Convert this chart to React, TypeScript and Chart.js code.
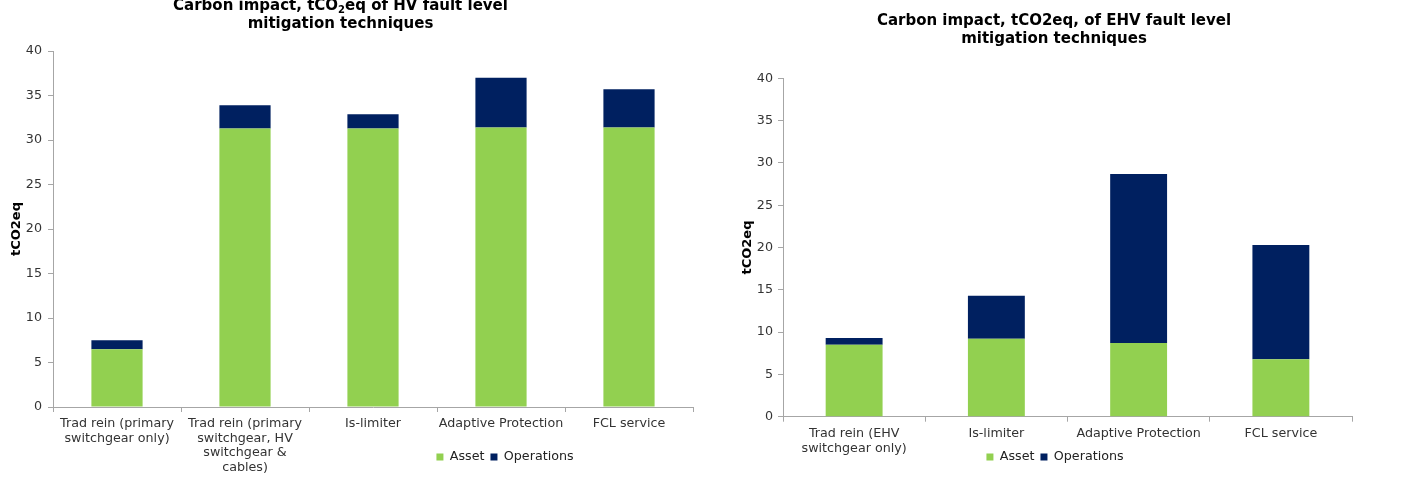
import React, { useEffect, useRef } from "react";
import { Chart, registerables } from "chart.js";

Chart.register(...registerables);

// ---------- data ----------
const seriesNames = ["Asset", "Operations"];

const hvCategories = [
  ["Trad rein (primary", "switchgear only)"],
  ["Trad rein (primary", "switchgear, HV", "switchgear &", "cables)"],
  ["Is-limiter"],
  ["Adaptive Protection"],
  ["FCL service"],
];
const hvAsset = [6.5, 31.3, 31.3, 31.4, 31.4];
const hvOperations = [1.0, 2.6, 1.6, 5.6, 4.3];

const ehvCategories = [
  ["Trad rein (EHV", "switchgear only)"],
  ["Is-limiter"],
  ["Adaptive Protection"],
  ["FCL service"],
];
const ehvAsset = [8.5, 9.2, 8.7, 6.8];
const ehvOperations = [0.8, 5.1, 20.0, 13.5];

const yMin = 0;
const yMax = 40;
const yStep = 5;
const yTitle = "tCO2eq";

const hvTitle = [
  [{ text: "Carbon impact, tCO" }, { text: "2", sub: true }, { text: "eq of HV fault level" }],
  [{ text: "mitigation techniques" }],
];
const ehvTitle = [
  [{ text: "Carbon impact, tCO2eq, of EHV fault level" }],
  [{ text: "mitigation techniques" }],
];

// ---------- styles ----------
const FAMILY = "'DejaVu Sans', Verdana, sans-serif";
const GREEN = "#92D050";
const NAVY = "#002060";
const AXIS = "#A6A6A6";
const TICK_COLOR = "#333333";
const TICK_SIZE = 12.7;
const LEGEND_PAD = 6;
const LEGEND_H = TICK_SIZE + LEGEND_PAD + 10;

const richTitle = {
  id: "richTitle",
  afterDraw(chart: any, _a: any, opts: any) {
    if (!opts || !opts.lines) return;
    const ctx = chart.ctx;
    ctx.save();
    ctx.fillStyle = opts.color || "#000";
    ctx.textBaseline = "alphabetic";
    ctx.textAlign = "left";
    opts.lines.forEach((segs: any[], i: number) => {
      const y = opts.baselines[i];
      const widths = segs.map((s) => {
        ctx.font = `bold ${s.sub ? opts.subSize : opts.size}px ${FAMILY}`;
        return ctx.measureText(s.text).width;
      });
      const total = widths.reduce((a: number, b: number) => a + b, 0);
      let x = opts.cx - total / 2;
      segs.forEach((s, j) => {
        ctx.font = `bold ${s.sub ? opts.subSize : opts.size}px ${FAMILY}`;
        ctx.fillText(s.text, x, y + (s.sub ? opts.subShift : 0));
        x += widths[j];
      });
    });
    ctx.restore();
  },
};

const legendPlacer = {
  id: "legendPlacer",
  afterLayout(chart: any, _a: any, opts: any) {
    const lg = chart.legend;
    if (!lg || opts == null || opts.cx == null) return;
    const w = lg.right - lg.left;
    lg.left = opts.cx - w / 2;
    lg.right = lg.left + w;
    const h = lg.bottom - lg.top;
    lg.top = opts.cy - (LEGEND_PAD + TICK_SIZE / 2);
    lg.bottom = lg.top + h;
  },
};

function makeConfig(p: {
  labels: string[][];
  asset: number[];
  ops: number[];
  yAxisWidth: number;
  yTitlePad: number;
  yTickPad: number;
  xAxisHeight: number;
  padTop: number;
  padRight: number;
  title: any;
  legendCx: number;
  legendCy: number;
}) {
  return {
    type: "bar",
    data: {
      labels: p.labels,
      datasets: [
        { label: seriesNames[0], data: p.asset, backgroundColor: GREEN, borderWidth: 0 },
        { label: seriesNames[1], data: p.ops, backgroundColor: NAVY, borderWidth: 0 },
      ],
    },
    options: {
      responsive: false,
      animation: false,
      maintainAspectRatio: false,
      layout: { padding: { top: p.padTop, left: 0, right: p.padRight, bottom: -LEGEND_H } },
      datasets: { bar: { barPercentage: 0.4, categoryPercentage: 1.0 } },
      scales: {
        x: {
          stacked: true,
          grid: {
            display: true,
            offset: true,
            drawOnChartArea: false,
            drawTicks: true,
            tickLength: 5,
            color: AXIS,
          },
          border: { display: true, color: AXIS, width: 1 },
          ticks: {
            autoSkip: false,
            maxRotation: 0,
            minRotation: 0,
            padding: 5,
            color: TICK_COLOR,
            font: { family: FAMILY, size: TICK_SIZE, lineHeight: 1.13 },
          },
          afterFit: (s: any) => {
            s.height = p.xAxisHeight;
          },
        },
        y: {
          stacked: true,
          min: yMin,
          max: yMax,
          ticks: {
            stepSize: yStep,
            padding: p.yTickPad,
            color: TICK_COLOR,
            font: { family: FAMILY, size: TICK_SIZE },
          },
          grid: {
            display: true,
            drawOnChartArea: false,
            drawTicks: true,
            tickLength: 5,
            color: AXIS,
          },
          border: { display: true, color: AXIS, width: 1 },
          title: {
            display: true,
            text: yTitle,
            color: "#000",
            font: { family: FAMILY, size: 13, weight: "bold", lineHeight: 1.2 },
            padding: { top: p.yTitlePad, bottom: 0 },
          },
          afterFit: (s: any) => {
            s.width = p.yAxisWidth;
          },
        },
      },
      plugins: {
        title: { display: false },
        tooltip: { enabled: false },
        legend: {
          display: true,
          position: "bottom",
          labels: {
            boxWidth: 7,
            boxHeight: 7,
            padding: LEGEND_PAD,
            color: "#222",
            font: { family: FAMILY, size: TICK_SIZE },
          },
        },
        legendPlacer: { cx: p.legendCx, cy: p.legendCy },
        richTitle: p.title,
      },
    },
    plugins: [legendPlacer, richTitle],
  } as any;
}

export default function App() {
  const leftRef = useRef<HTMLCanvasElement>(null);
  const rightRef = useRef<HTMLCanvasElement>(null);

  useEffect(() => {
    document.body.style.margin = "0";
    const left = new Chart(
      leftRef.current as HTMLCanvasElement,
      makeConfig({
        labels: hvCategories,
        asset: hvAsset,
        ops: hvOperations,
        yAxisWidth: 53,
        yTitlePad: 9,
        yTickPad: 6,
        xAxisHeight: 483 - 407,
        padTop: 51,
        padRight: 7,
        title: {
          lines: hvTitle,
          cx: 340.5,
          baselines: [9.8, 28],
          size: 15,
          subSize: 10,
          subShift: 3,
          color: "#000",
        },
        legendCx: 505,
        legendCy: 457,
      })
    );
    const right = new Chart(
      rightRef.current as HTMLCanvasElement,
      makeConfig({
        labels: ehvCategories,
        asset: ehvAsset,
        ops: ehvOperations,
        yAxisWidth: 63,
        yTitlePad: 20,
        yTickPad: 5,
        xAxisHeight: 483 - 416.7,
        padTop: 78.3,
        padRight: 63,
        title: {
          lines: ehvTitle,
          cx: 334,
          baselines: [24.5, 43],
          size: 15,
          subSize: 10,
          subShift: 3,
          color: "#000",
        },
        legendCx: 1055 - 720,
        legendCy: 457,
      })
    );
    return () => {
      left.destroy();
      right.destroy();
    };
  }, []);

  return (
    <div
      style={{
        position: "fixed",
        left: 0,
        top: 0,
        width: 1415,
        height: 483,
        background: "#fff",
        overflow: "hidden",
      }}
    >
      <canvas
        ref={leftRef}
        width={700}
        height={483}
        style={{ position: "absolute", left: 0, top: 0, width: 700, height: 483 }}
      />
      <canvas
        ref={rightRef}
        width={695}
        height={483}
        style={{ position: "absolute", left: 720, top: 0, width: 695, height: 483 }}
      />
    </div>
  );
}
